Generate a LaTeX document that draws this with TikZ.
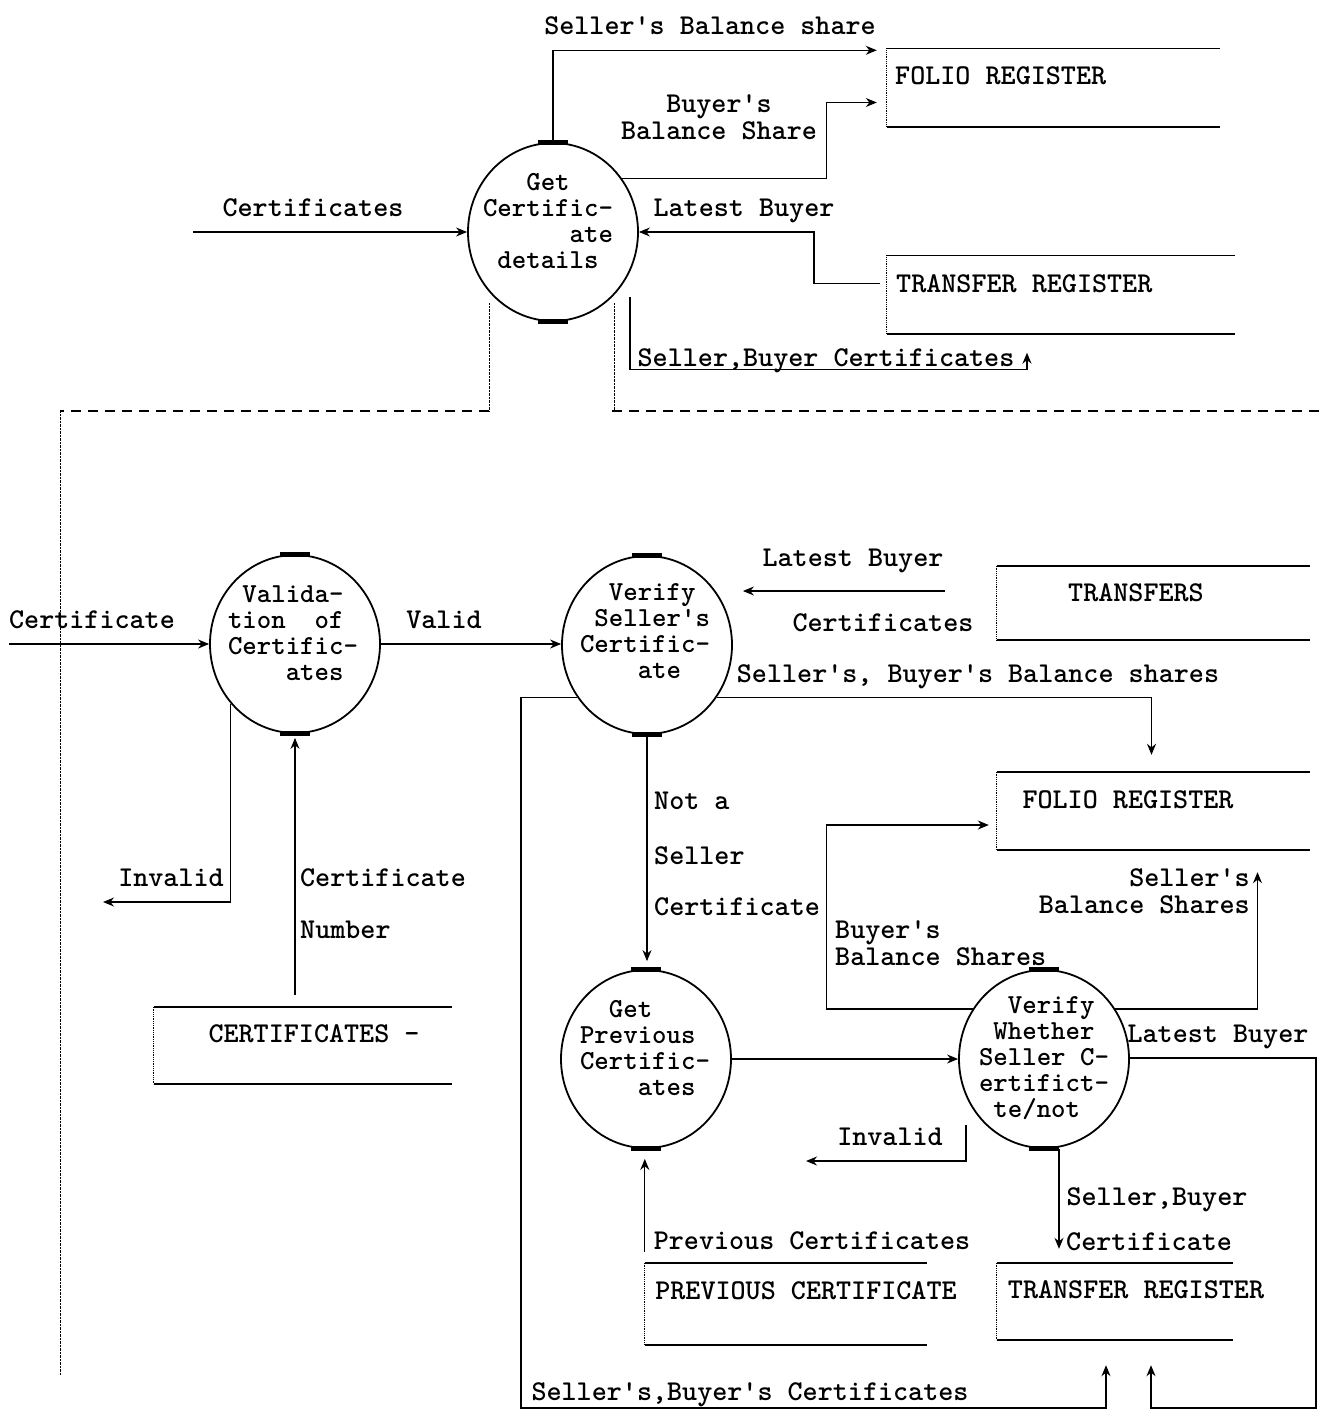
\documentclass[tikz,border=0pt]{standalone}
\usetikzlibrary{shapes.geometric, arrows.meta}
\tikzset{>={Stealth[length=11pt,width=9pt]},
every node/.style={font=\fontsize{28.7}{27}\ttfamily\bfseries, inner sep=0pt},
process/.style={ellipse, draw, line width=1.8pt, minimum width=170pt, minimum height=178pt},
ptext/.style={font=\fontsize{27.5}{26}\ttfamily\bfseries, align=left},
lbl/.style={text height=20pt, text depth=2pt},
store/.style={minimum height=78pt},
flow/.style={->, line width=1.2pt},
bar/.style={line width=5pt},
sepline/.style={line width=1.2pt, dash pattern=on 10pt off 7pt},
}
\newcommand{\storeline}[1]{%
  \draw[line width=1.6pt] (#1.north west) -- (#1.north east) (#1.south west) -- (#1.south east);
  \draw[densely dotted, line width=0.8pt] (#1.north west) -- (#1.south west);}

\begin{document}
\begin{tikzpicture}[x=1pt, y=-1pt]
\path[fill=white, use as bounding box] (0,0) rectangle (1321,1416);

% processes
\node[process] (getdet) at (553,232) {};
\node[process] (validate) at (295,644) {};
\node[process] (verseller) at (647,645) {};
\node[process] (getprev) at (646,1059) {};
\node[process] (verwhether) at (1044,1059) {};
\node[ptext] (getdettxt) at (548,221) {~~~Get\\Certific-\\~~~~~~ate\\~details};
\node[ptext] (validatetxt) at (293,633) {~Valida-\\tion~~of\\Certific-\\~~~~ates};
\node[ptext] (versellertxt) at (645,631) {~~Verify\\~Seller's\\Certific-\\~~~~ate};
\node[ptext] (getprevtxt) at (645,1048) {~~Get\\Previous\\Certific-\\~~~~ates};
\node[ptext] (verwhethertxt) at (1044,1058) {~~Verify\\~Whether\\Seller~C-\\ertifict-\\~te/not};
\draw[bar] ([xshift=-15pt]getdet.north) -- ([xshift=15pt]getdet.north);
\draw[bar] ([xshift=-15pt]getdet.south) -- ([xshift=15pt]getdet.south);
\draw[bar] ([xshift=-15pt]validate.north) -- ([xshift=15pt]validate.north);
\draw[bar] ([xshift=-15pt]validate.south) -- ([xshift=15pt]validate.south);
\draw[bar] ([xshift=-15pt]verseller.north) -- ([xshift=15pt]verseller.north);
\draw[bar] ([xshift=-15pt]verseller.south) -- ([xshift=15pt]verseller.south);
\draw[bar] ([xshift=-15pt]getprev.north) -- ([xshift=15pt]getprev.north);
\draw[bar] ([xshift=-15pt]getprev.south) -- ([xshift=15pt]getprev.south);
\draw[bar] ([xshift=-15pt]verwhether.north) -- ([xshift=15pt]verwhether.north);
\draw[bar] ([xshift=-15pt]verwhether.south) -- ([xshift=15pt]verwhether.south);

% data stores
\node[store, minimum width=333pt] (folio1) at (1053.5,87.5) {};
\node[store, minimum width=348pt] (transreg1) at (1061,294.5) {};
\node[store, minimum width=313pt, minimum height=74pt] (transfers) at (1153.5,603) {};
\node[store, minimum width=313pt] (folio2) at (1153.5,811) {};
\node[store, minimum width=298pt, minimum height=77pt] (certs) at (303,1045.5) {};
\node[store, minimum width=282pt, minimum height=82pt] (prevcert) at (786,1304) {};
\node[store, minimum width=236pt, minimum height=77pt] (transreg2) at (1115,1301.5) {};
\storeline{folio1} \storeline{transreg1} \storeline{transfers} \storeline{folio2}
\storeline{certs} \storeline{prevcert} \storeline{transreg2}
\node[lbl, anchor=west] (folio1txt) at (895,75) {FOLIO REGISTER};
\node[lbl, anchor=west] (transreg1txt) at (896,283) {TRANSFER REGISTER};
\node[lbl] (transferstxt) at (1136,592) {TRANSFERS};
\node[lbl] (folio2txt) at (1128,799) {FOLIO REGISTER};
\node[lbl] (certstxt) at (314,1033) {CERTIFICATES -};
\node[lbl] (prevcerttxt) at (806,1290) {PREVIOUS CERTIFICATE};
\node[lbl] (transreg2txt) at (1136,1289) {TRANSFER REGISTER};

% top flows
\coordinate (certin) at (193,232);
\draw[flow] (certin) -- (getdet.west);
\draw[flow] (getdet.north) |- ([xshift=-10pt,yshift=-2pt]folio1.north west);
\draw[flow] (getdet.38) -| ([xshift=-60pt,yshift=-15pt]folio1.west) -- ([xshift=-10pt,yshift=-15pt]folio1.west);
\draw[flow] ([xshift=-7pt,yshift=11pt]transreg1.west) -| ([xshift=175pt]getdet.east) -- (getdet.east);
\draw[flow] ([xshift=77pt,yshift=-65pt]getdet.center) |- ([xshift=-34pt,yshift=-36pt]transreg1.south) -- ([xshift=-34pt,yshift=-19pt]transreg1.south);

% page break
\draw[densely dotted] (489,303) -- (489,411);
\draw[sepline] (489,411) -- (60,411);
\draw[densely dotted] (60,411) -- (60,1375);
\draw[densely dotted] (614,303) -- (614,411);
\draw[sepline] (612,411) -- (1321,411);

% bottom flows
\coordinate (certin2) at (9,644);
\draw[flow] (certin2) -- (validate.west);
\draw[flow] (validate.east) -- (validate.east -| verseller.west);
\coordinate (lbstart) at ([xshift=-52pt,yshift=12pt]transfers.west);
\draw[flow, shorten >=10pt] (lbstart) -- (lbstart -| verseller.east);
\draw[flow] (verseller.-37) -| ([xshift=-2pt,yshift=17pt]folio2.north);
\draw[flow, shorten >=8pt] (verseller.south) -- (verseller.south |- getprev.north);
\draw[flow] (getprev.east) -- (getprev.east -| verwhether.west);
\draw[flow] (verwhether.145) -| ([xshift=-170pt,yshift=-14pt]folio2.west) -- ([xshift=-8pt,yshift=-14pt]folio2.west);
\draw[flow] (verwhether.35) -| ([xshift=104pt,yshift=-22pt]folio2.south);
\coordinate (botR) at (1316,1408);
\coordinate (botL) at (521,1408);
\draw[flow] ([yshift=1pt]verwhether.east) -| (botR) -| ([xshift=36pt,yshift=-25pt]transreg2.south);
\draw[flow] (verseller.217) -| (botL) -| ([xshift=-9pt,yshift=-25pt]transreg2.south);
\coordinate (invalid2) at (806,1161);
\draw[flow] ([xshift=-78pt,yshift=-66pt]verwhether.center) |- (invalid2);
\draw[flow] ([xshift=15pt]verwhether.south) -- ([xshift=-56pt,yshift=14pt]transreg2.north);
\draw[flow, shorten <=11pt, shorten >=10pt] (prevcert.north west) -- (prevcert.north west |- getprev.south);
\coordinate (invalid1) at (103,902);
\draw[flow] (validate.223) |- (invalid1);
\draw[flow, shorten <=12pt, shorten >=4pt] (validate.south |- certs.north) -- (validate.south);

% labels
\node[lbl] (sbshare) at (710,25) {Seller's Balance share};
\node[lbl] (certslbl) at (313,207) {Certificates};
\node[align=center] (bbshare) at (719,117) {Buyer's\\Balance Share};
\node[lbl] (lbuyer1) at (744,207) {Latest Buyer};
\node[lbl] (sbcerts1) at (826,357) {Seller,Buyer Certificates};
\node[lbl] (certlbl) at (92,619) {Certificate};
\node[lbl] (validlbl) at (444,619) {Valid};
\node[lbl] (lbuyer2) at (853,557) {Latest Buyer};
\node[lbl] (certs2lbl) at (883,622) {Certificates};
\node[lbl] (sbbshares) at (978,673) {Seller's, Buyer's Balance shares};
\node[lbl, anchor=west] (notalbl) at (654,800) {Not a};
\node[lbl, anchor=west] (sellerlbl) at (654,855) {Seller};
\node[lbl, anchor=west] (certlbl2) at (654,906) {Certificate};
\node[align=left, anchor=west] (bbshares) at (835,943) {Buyer's\\Balance Shares};
\node[align=right, anchor=east] (sbshares) at (1250,891) {Seller's\\Balance Shares};
\node[lbl] (lbuyer3) at (1218,1033) {Latest Buyer};
\node[lbl] (invalidlbl2) at (890,1136) {Invalid};
\node[lbl] (sblbl) at (1157,1196) {Seller,Buyer};
\node[lbl, anchor=west] (certlbl3) at (1066,1241) {Certificate};
\node[lbl] (prevlbl) at (812,1240) {Previous Certificates};
\node[lbl] (sbcerts2) at (750,1391) {Seller's,Buyer's Certificates};
\node[lbl] (invalidlbl1) at (171,877) {Invalid};
\node[lbl] (certnolbl) at (383,877) {Certificate};
\node[lbl, anchor=west] (numberlbl) at (300,929) {Number};
\end{tikzpicture}
\end{document}
